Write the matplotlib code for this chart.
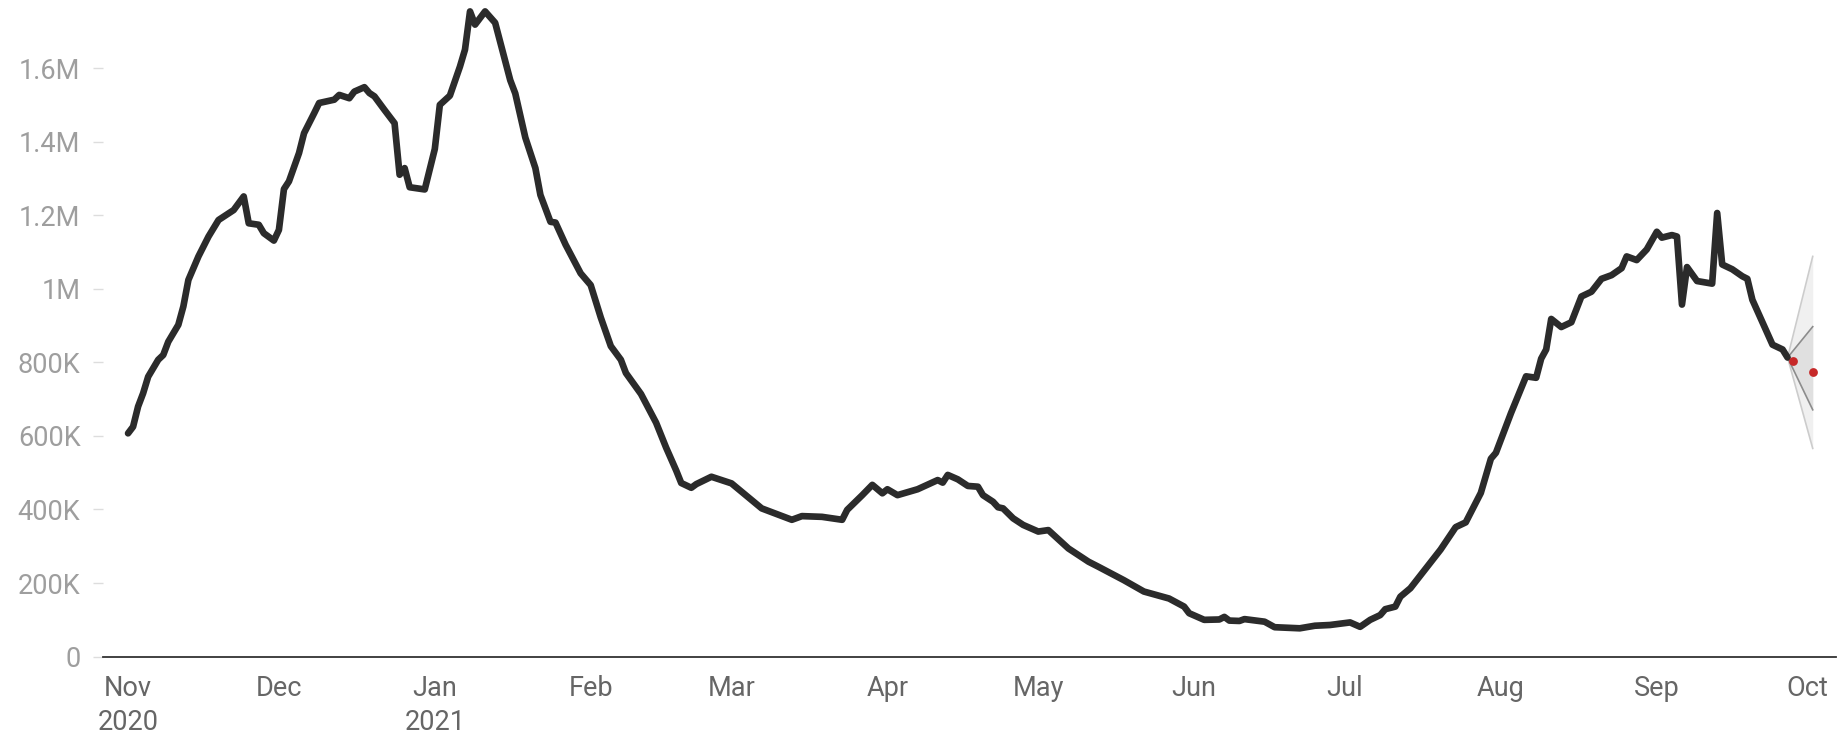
import numpy as np
import pandas as pd
import matplotlib.pyplot as plt
import matplotlib.dates as mdates

plt.rcParams['font.family'] = ['Roboto', 'DejaVu Sans']

# casos semanais (milhares)
dates = ['2020-11-01', '2020-11-02', '2020-11-03', '2020-11-04', '2020-11-05', '2020-11-07',
         '2020-11-08', '2020-11-09', '2020-11-11', '2020-11-12', '2020-11-13', '2020-11-15',
         '2020-11-17', '2020-11-19', '2020-11-22', '2020-11-24', '2020-11-25', '2020-11-27',
         '2020-11-28', '2020-11-30', '2020-12-01', '2020-12-02', '2020-12-03', '2020-12-05',
         '2020-12-06', '2020-12-08', '2020-12-09', '2020-12-12', '2020-12-13', '2020-12-15',
         '2020-12-16', '2020-12-18', '2020-12-19', '2020-12-20', '2020-12-22', '2020-12-24',
         '2020-12-25', '2020-12-26', '2020-12-27', '2020-12-30', '2021-01-01', '2021-01-02',
         '2021-01-04', '2021-01-06', '2021-01-07', '2021-01-08', '2021-01-09', '2021-01-11',
         '2021-01-13', '2021-01-14', '2021-01-16', '2021-01-17', '2021-01-19', '2021-01-21',
         '2021-01-22', '2021-01-24', '2021-01-25', '2021-01-27', '2021-01-30', '2021-02-01',
         '2021-02-03', '2021-02-05', '2021-02-07', '2021-02-08', '2021-02-11', '2021-02-14',
         '2021-02-16', '2021-02-18', '2021-02-19', '2021-02-21', '2021-02-22', '2021-02-25',
         '2021-03-01', '2021-03-07', '2021-03-13', '2021-03-15', '2021-03-19', '2021-03-23',
         '2021-03-24', '2021-03-27', '2021-03-29', '2021-03-31', '2021-04-01', '2021-04-03',
         '2021-04-07', '2021-04-11', '2021-04-12', '2021-04-13', '2021-04-15', '2021-04-17',
         '2021-04-19', '2021-04-20', '2021-04-22', '2021-04-23', '2021-04-24', '2021-04-26',
         '2021-04-28', '2021-05-01', '2021-05-03', '2021-05-07', '2021-05-11', '2021-05-13',
         '2021-05-18', '2021-05-22', '2021-05-27', '2021-05-30', '2021-05-31', '2021-06-03',
         '2021-06-06', '2021-06-07', '2021-06-08', '2021-06-10', '2021-06-11', '2021-06-15',
         '2021-06-17', '2021-06-22', '2021-06-25', '2021-06-28', '2021-07-02', '2021-07-04',
         '2021-07-06', '2021-07-08', '2021-07-09', '2021-07-11', '2021-07-12', '2021-07-14',
         '2021-07-16', '2021-07-20', '2021-07-23', '2021-07-25', '2021-07-28', '2021-07-30',
         '2021-07-31', '2021-08-03', '2021-08-06', '2021-08-08', '2021-08-09', '2021-08-10',
         '2021-08-11', '2021-08-13', '2021-08-15', '2021-08-17', '2021-08-19', '2021-08-21',
         '2021-08-23', '2021-08-25', '2021-08-26', '2021-08-28', '2021-08-30', '2021-09-01',
         '2021-09-02', '2021-09-04', '2021-09-05', '2021-09-06', '2021-09-07', '2021-09-09',
         '2021-09-12', '2021-09-13', '2021-09-14', '2021-09-16', '2021-09-18', '2021-09-19',
         '2021-09-20', '2021-09-24', '2021-09-26', '2021-09-27']
cases_k = [607, 625, 680, 716, 761, 807, 820, 856, 902, 952, 1024, 1088,
           1142, 1187, 1214, 1251, 1178, 1174, 1151, 1131, 1160, 1271, 1292, 1369,
           1423, 1477, 1505, 1514, 1527, 1518, 1536, 1548, 1532, 1523, 1486, 1450,
           1310, 1328, 1276, 1270, 1380, 1500, 1525, 1604, 1650, 1754, 1718, 1754,
           1723, 1671, 1567, 1531, 1411, 1328, 1255, 1182, 1180, 1120, 1042, 1010,
           922, 844, 807, 771, 714, 636, 568, 506, 472, 459, 469, 489,
           471, 403, 372, 382, 380, 372, 399, 439, 467, 444, 455, 439,
           455, 480, 473, 494, 482, 464, 462, 439, 421, 406, 403, 376,
           358, 340, 344, 294, 258, 244, 208, 177, 158, 136, 118, 100,
           101, 108, 98, 97, 102, 95, 80, 77, 84, 86, 93, 81,
           100, 113, 129, 136, 163, 186, 221, 291, 352, 365, 445, 538,
           554, 662, 762, 758, 810, 835, 918, 896, 909, 979, 992, 1027,
           1037, 1056, 1088, 1078, 1107, 1155, 1139, 1146, 1142, 957, 1059, 1021,
           1014, 1206, 1066, 1053, 1034, 1027, 970, 848, 835, 813]

# previsão
fc_dates = ['2021-09-28', '2021-10-02']
fc_values_k = [804, 775]
fan_dates = ['2021-09-27', '2021-10-02']
fan_outer_lo = [813, 566]
fan_outer_hi = [813, 1088]
fan_inner_lo = [813, 671]
fan_inner_hi = [813, 897]

tick_dates = pd.date_range('2020-11-01', '2021-10-01', freq='MS')
tick_labels = ['Nov\n2020', 'Dec', 'Jan\n2021', 'Feb', 'Mar', 'Apr', 'May', 'Jun', 'Jul',
               'Aug', 'Sep', 'Oct']
y_ticks = [0, 200, 400, 600, 800, 1000, 1200, 1400, 1600]
y_labels = ['0', '200K', '400K', '600K', '800K', '1M', '1.2M', '1.4M', '1.6M']

x = pd.to_datetime(dates)
y = np.array(cases_k) * 1000
fx = pd.to_datetime(fan_dates)

fig = plt.figure(figsize=(18.45, 7.34), dpi=100)
ax = fig.add_axes([0.056, 0.1054, 0.939, 0.8946])

# faixa de previsão
ax.fill_between(fx, np.array(fan_outer_lo) * 1000, np.array(fan_outer_hi) * 1000,
                color='#f0f0f0', lw=0, zorder=1)
ax.fill_between(fx, np.array(fan_inner_lo) * 1000, np.array(fan_inner_hi) * 1000,
                color='#e0e0e0', lw=0, zorder=1)
for b, c in [(fan_outer_lo, '#cccccc'), (fan_outer_hi, '#cccccc'),
             (fan_inner_lo, '#8c8c8c'), (fan_inner_hi, '#8c8c8c')]:
    ax.plot(fx, np.array(b) * 1000, color=c, lw=1.2, zorder=2)

# série principal
ax.plot(x, y, color='#2b2b2b', lw=4.8, solid_capstyle='round', solid_joinstyle='round', zorder=3)

ax.scatter(pd.to_datetime(fc_dates), np.array(fc_values_k) * 1000, s=40, color='#c62828',
           zorder=4, lw=0)

ax.set_xlim(mdates.date2num(pd.Timestamp('2020-10-27 02:00')),
            mdates.date2num(pd.Timestamp('2021-10-06 14:00')))
ax.set_ylim(0, 1785000)

ax.set_xticks(tick_dates)
ax.set_xticklabels(tick_labels, linespacing=1.32)
ax.set_yticks(np.array(y_ticks) * 1000)
ax.set_yticklabels(y_labels)

for s in ['top', 'right', 'left']:
    ax.spines[s].set_visible(False)
ax.spines['bottom'].set_color('#333333')
ax.spines['bottom'].set_linewidth(1.3)

ax.tick_params(axis='x', length=0, pad=13.5, labelsize=19.5, labelcolor='#666666')
ax.tick_params(axis='y', length=7, width=1, color='#dddddd', pad=9.4, labelsize=19.5,
               labelcolor='#9e9e9e')

fig.savefig('out.png', dpi=100, facecolor='white')
